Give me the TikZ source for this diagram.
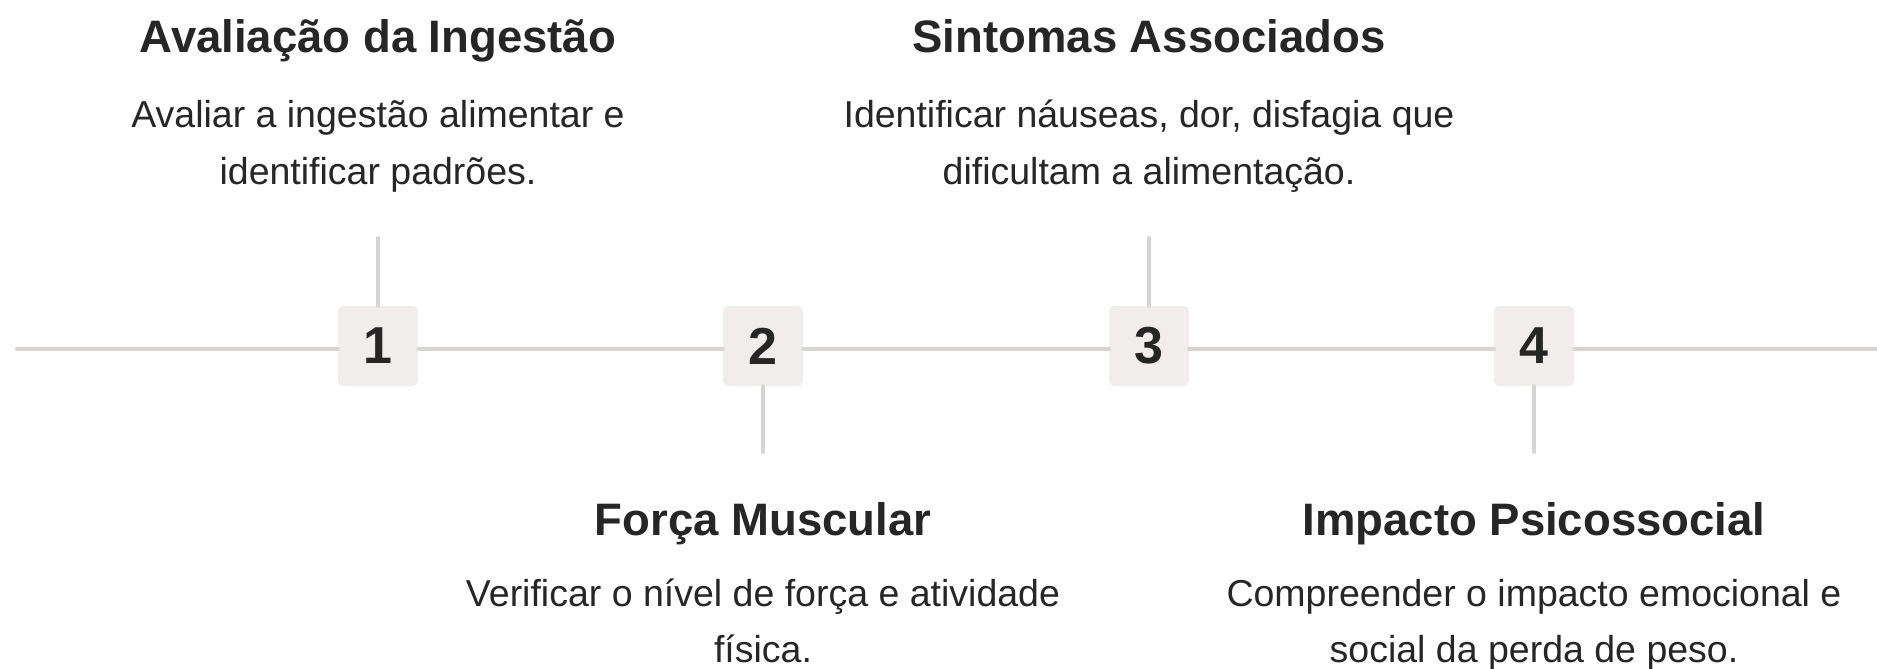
\documentclass[tikz,border=0pt]{standalone}
\usepackage{fontspec}
\setmainfont{Liberation Sans}
\definecolor{linegray}{HTML}{D8D4D4}
\definecolor{boxfill}{HTML}{F0EDEC}
\definecolor{ink}{HTML}{262626}
\tikzset{
  conn/.style={draw=linegray, line width=4pt, line cap=round},
  numbox/.style={fill=boxfill, rounded corners=5pt, minimum width=80pt, minimum height=80pt, inner sep=0pt, text=ink, font=\fontsize{52}{52}\selectfont\bfseries},
  ttl/.style={anchor=base, inner sep=0pt, text=ink, font=\fontsize{45.5}{54}\selectfont\bfseries},
  body/.style={anchor=base, inner sep=0pt, text=ink, font=\fontsize{37.5}{58}\selectfont},
}
\begin{document}
\begin{tikzpicture}[x=1pt,y=-1pt]
\useasboundingbox[fill=white] (0,0) rectangle (1877,669);
% axis end points
\coordinate (L) at (17,348.5);
\coordinate (R) at (1890,348.5);
% number boxes
\node[numbox] (b1) at (378,346) {1};
\node[numbox] (b2) at (763,346) {2};
\node[numbox] (b3) at (1149,346) {3};
\node[numbox] (b4) at (1534,346) {4};
% stem ends
\coordinate (s1) at (378,238);
\coordinate (s2) at (763,452);
\coordinate (s3) at (1149,238);
\coordinate (s4) at (1534,452);
% connectors
\draw[conn] (L) -- (L -| b1.west);
\draw[conn] (L -| b1.east) -- (L -| b2.west);
\draw[conn] (L -| b2.east) -- (L -| b3.west);
\draw[conn] (L -| b3.east) -- (L -| b4.west);
\draw[conn] (L -| b4.east) -- (R);
\draw[conn] (b1.north) -- (s1);
\draw[conn] (b2.south) -- (s2);
\draw[conn] (b3.north) -- (s3);
\draw[conn] (b4.south) -- (s4);
% texts step 1
\node[ttl] (t1) at (378,53) {Avaliação da Ingestão};
\node[body] (d1a) at (378,127) {Avaliar a ingestão alimentar e};
\node[body] (d1b) at (378,184) {identificar padrões.};
% step 3
\node[ttl] (t3) at (1149,53) {Sintomas Associados};
\node[body] (d3a) at (1149,127) {Identificar náuseas, dor, disfagia que};
\node[body] (d3b) at (1149,184) {dificultam a alimentação.};
% step 2
\node[ttl] (t2) at (763,535) {Força Muscular};
\node[body] (d2a) at (763,606) {Verificar o nível de força e atividade};
\node[body] (d2b) at (763,662) {física.};
% step 4
\node[ttl] (t4) at (1534,535) {Impacto Psicossocial};
\node[body] (d4a) at (1534,606) {Compreender o impacto emocional e};
\node[body] (d4b) at (1534,662) {social da perda de peso.};
\end{tikzpicture}
\end{document}
